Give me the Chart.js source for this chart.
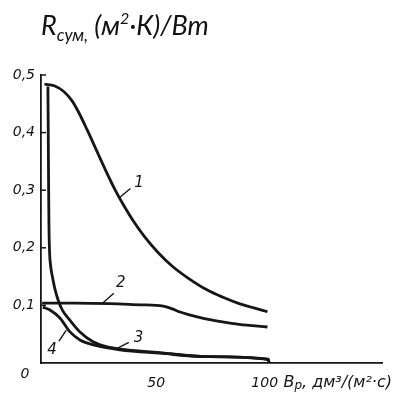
<!DOCTYPE html>
<html>
<head>
<meta charset="utf-8">
<script src="https://cdn.jsdelivr.net/npm/chart.js@4"></script>
<style>
  html, body { margin: 0; padding: 0; background: #fff; }
  #wrap { position: relative; width: 401px; height: 395px; }
  #box { position: absolute; left: 0; top: 0; width: 401px; height: 395px; }
  #title { position: absolute; left: 41px; top: 8px; font: italic 27px Lato, sans-serif; color: #111; white-space: nowrap; }
  #title sub { font-size: 17px; vertical-align: -6px; }
  #title sup { font-size: 16px; vertical-align: 11px; }
</style>
</head>
<body>
<div id="wrap">
  <div id="box"><canvas id="chart"></canvas></div>
  <div id="title">R<sub>сум,</sub> (м<sup>2</sup>·К)/Вт</div>
</div>
<script>
// flow rate, dm3/(m2*s)
const curve1X = [1.5, 6, 10, 13.5, 16.5, 20, 24, 28, 32, 36, 40, 45, 51, 57, 64, 72, 79, 86, 92, 98.3];
const curve1Y = [0.484, 0.481, 0.471, 0.455, 0.434, 0.405, 0.370, 0.335, 0.302, 0.273, 0.247, 0.219, 0.191, 0.168, 0.147, 0.127, 0.114, 0.103, 0.096, 0.089];

const curve2X = [0.5, 15, 30, 43, 50, 54, 57, 60, 64, 70, 78, 86, 98.3];
const curve2Y = [0.104, 0.104, 0.103, 0.101, 0.100, 0.098, 0.094, 0.089, 0.084, 0.078, 0.072, 0.067, 0.0625];

const curve3X = [0.8, 3.9, 8.2, 12.6, 16.9, 24.1, 34.2, 51.5, 71.9, 98.7, 99];
const curve3Y = [0.097, 0.092, 0.078, 0.054, 0.040, 0.030, 0.023, 0.017, 0.011, 0.006, 0];

const curve4X = [3.0, 3.15, 3.3, 3.45, 3.7, 4.2, 5.0, 6.2, 7.8, 9.4, 12.6, 16.9, 22.6, 29.9, 34.2, 51.5, 71.9, 98.7, 99];
const curve4Y = [0.480, 0.40, 0.31, 0.24, 0.195, 0.168, 0.149, 0.126, 0.105, 0.091, 0.074, 0.054, 0.037, 0.027, 0.024, 0.018, 0.011, 0.0065, 0];

const xTicks = [0, 50, 100];
const yTicks = [0.1, 0.2, 0.3, 0.4, 0.5];

const ink = '#161616';
const tickFont = { family: '"DejaVu Sans", sans-serif', size: 14, style: 'italic' };

const toPoints = (xs, ys) => xs.map((x, i) => ({ x: x, y: ys[i] }));

// numbers next to the curves, with short leader strokes (data units)
const tags = [
  { text: '1', at: [42.5, 0.312], from: [34, 0.287], to: [38.8, 0.303] },
  { text: '2', at: [34.6, 0.138], from: [26.8, 0.104], to: [31.6, 0.121] },
  { text: '3', at: [42.3, 0.044], from: [32.9, 0.025], to: [38.1, 0.036] },
  { text: '4', at: [4.8, 0.022], from: [7.8, 0.038], to: [11.0, 0.057] }
];

const annotate = {
  id: 'annotate',
  afterDraw(chart) {
    const { ctx } = chart;
    const x = chart.scales.x;
    const y = chart.scales.y;
    ctx.save();
    ctx.strokeStyle = ink;
    ctx.fillStyle = ink;

    // short ticks turned inward on the y axis
    ctx.lineWidth = 1.5;
    yTicks.forEach(v => {
      const py = y.getPixelForValue(v);
      ctx.beginPath();
      ctx.moveTo(x.left, py);
      ctx.lineTo(x.left + 5, py);
      ctx.stroke();
    });

    ctx.font = 'italic 15px "DejaVu Sans", sans-serif';
    ctx.textAlign = 'center';
    ctx.textBaseline = 'middle';
    ctx.lineWidth = 1.4;
    tags.forEach(t => {
      ctx.beginPath();
      ctx.moveTo(x.getPixelForValue(t.from[0]), y.getPixelForValue(t.from[1]));
      ctx.lineTo(x.getPixelForValue(t.to[0]), y.getPixelForValue(t.to[1]));
      ctx.stroke();
      ctx.fillText(t.text, x.getPixelForValue(t.at[0]), y.getPixelForValue(t.at[1]));
    });

    // origin
    ctx.font = 'italic 14px "DejaVu Sans", sans-serif';
    ctx.fillText('0', x.getPixelForValue(0) - 16, y.getPixelForValue(0) + 11);

    // axis unit after the last tick
    const ux = x.getPixelForValue(100) + 12;
    const uy = y.getPixelForValue(0) + 20;
    ctx.textAlign = 'left';
    ctx.font = 'italic 16px "DejaVu Sans", sans-serif';
    ctx.fillText('В', ux, uy);
    let cx = ux + ctx.measureText('В').width;
    ctx.font = 'italic 12px "DejaVu Sans", sans-serif';
    ctx.fillText('р', cx, uy + 3);
    cx += ctx.measureText('р').width;
    ctx.font = 'italic 16px "DejaVu Sans", sans-serif';
    ctx.fillText(', дм³/(м²·с)', cx, uy);
    ctx.restore();
  }
};

new Chart(document.getElementById('chart'), {
  type: 'line',
  data: {
    datasets: [
      { label: '1', data: toPoints(curve1X, curve1Y) },
      { label: '2', data: toPoints(curve2X, curve2Y) },
      { label: '3', data: toPoints(curve3X, curve3Y) },
      { label: '4', data: toPoints(curve4X, curve4Y) }
    ]
  },
  options: {
    responsive: true,
    maintainAspectRatio: false,
    animation: false,
    layout: { padding: { top: 75, right: 19, left: 0, bottom: 0 } },
    elements: {
      point: { radius: 0 },
      line: { borderColor: ink, borderWidth: 2.8, cubicInterpolationMode: 'monotone', fill: false }
    },
    plugins: {
      legend: { display: false },
      tooltip: { enabled: false }
    },
    scales: {
      x: {
        type: 'linear',
        min: 0,
        max: 148,
        grid: { display: false, drawTicks: false },
        border: { color: ink, width: 1.8 },
        afterBuildTicks: s => { s.ticks = xTicks.map(v => ({ value: v })); },
        afterFit: s => { s.height = 32; },
        ticks: {
          padding: 12,
          color: ink,
          font: tickFont,
          // trailing spaces nudge "100" left, clear of the unit text
          callback: v => (v === 0 ? '' : v === 100 ? '100   ' : String(v))
        }
      },
      y: {
        min: 0,
        max: 0.5,
        grid: { display: false, drawTicks: false },
        border: { color: ink, width: 1.8 },
        afterBuildTicks: s => { s.ticks = yTicks.map(v => ({ value: v })); },
        afterFit: s => { s.width = 41; },
        ticks: {
          padding: 6,
          color: ink,
          font: tickFont,
          callback: v => v.toFixed(1).replace('.', ',')
        }
      }
    }
  },
  plugins: [annotate]
});
</script>
</body>
</html>
